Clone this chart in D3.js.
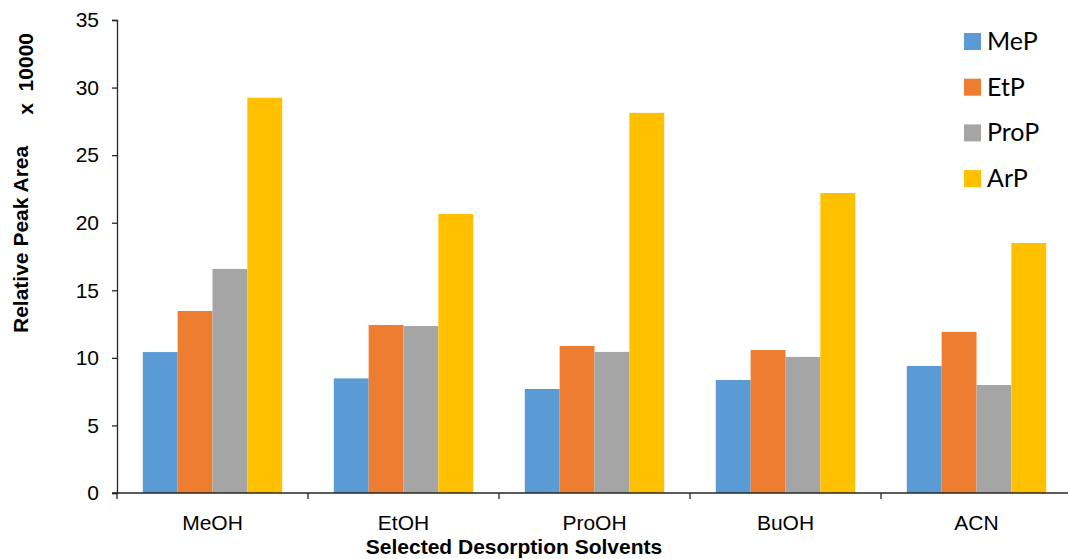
<!DOCTYPE html>
<html>
<head>
<meta charset="utf-8">
<script src="https://cdn.jsdelivr.net/npm/d3@7"></script>
<style>
  html, body { margin: 0; padding: 0; background: #fff; }
  svg { display: block; }
</style>
</head>
<body>
<svg id="chart" width="1068" height="559"></svg>
<script>
const categories = ["MeOH", "EtOH", "ProOH", "BuOH", "ACN"];
const seriesNames = ["MeP", "EtP", "ProP", "ArP"];
const MeP  = [10.43, 8.48, 7.70, 8.36, 9.40];
const EtP  = [13.47, 12.43, 10.88, 10.58, 11.92];
const ProP = [16.58, 12.36, 10.44, 10.07, 7.99];
const ArP  = [29.25, 20.65, 28.13, 22.20, 18.50];
const yTicks = [0, 5, 10, 15, 20, 25, 30, 35];
const colors = ["#5B9BD5", "#ED7D31", "#A5A5A5", "#FFC000"];

(function () {
const seriesValues = [MeP, EtP, ProP, ArP];
const svg = d3.select("#chart");

const mLeft = 117, mRight = 1072, mTop = 20, mBottom = 493;

const x = d3.scaleBand().domain(categories).range([mLeft, mRight]).paddingInner(0).paddingOuter(0);
const xs = d3.scaleBand().domain(seriesNames).range([0, x.bandwidth()]).paddingInner(0).paddingOuter(0.74);
const y = d3.scaleLinear().domain([0, 35]).range([mBottom, mTop]);

// bars
const groups = svg.append("g").selectAll("g")
  .data(categories).join("g")
  .attr("transform", d => `translate(${x(d)},0)`);

groups.selectAll("rect")
  .data((c, ci) => seriesNames.map((s, si) => ({ s, si, v: seriesValues[si][ci] })))
  .join("rect")
  .attr("x", d => xs(d.s))
  .attr("width", xs.bandwidth())
  .attr("y", d => y(d.v))
  .attr("height", d => y(0) - y(d.v))
  .attr("fill", d => colors[d.si]);

const axisColor = "#262626";
const font = "Liberation Sans, Arial, sans-serif";

// y axis
const yAxis = svg.append("g")
  .attr("transform", `translate(${mLeft},0)`)
  .call(d3.axisLeft(y).tickValues(yTicks).tickSize(5).tickPadding(13).tickFormat(d3.format("d")));
yAxis.select(".domain").attr("stroke", axisColor).attr("stroke-width", 1.3);
yAxis.selectAll(".tick line").attr("stroke", axisColor).attr("stroke-width", 1.3);
yAxis.selectAll(".tick text")
  .attr("font-family", font)
  .attr("font-size", 21).attr("fill", "#000");

// x axis
const xAxis = svg.append("g")
  .attr("transform", `translate(0,${mBottom})`)
  .call(d3.axisBottom(x).tickSize(0).tickPadding(22));
xAxis.select(".domain").remove();
xAxis.selectAll(".tick text")
  .attr("font-family", font)
  .attr("font-size", 21).attr("fill", "#000");
xAxis.append("line")
  .attr("x1", mLeft - 5).attr("x2", mRight).attr("y1", 0).attr("y2", 0)
  .attr("stroke", axisColor).attr("stroke-width", 1.3);
const boundaries = categories.map(c => x(c)).concat([x(categories[categories.length - 1]) + x.bandwidth()]);
xAxis.selectAll(".bnd").data(boundaries).join("line")
  .attr("class", "bnd")
  .attr("x1", d => d).attr("x2", d => d).attr("y1", 0).attr("y2", 6)
  .attr("stroke", axisColor).attr("stroke-width", 1.3);

// axis titles
svg.append("text")
  .attr("x", 514).attr("y", 554)
  .attr("text-anchor", "middle")
  .attr("font-family", font)
  .attr("font-weight", "bold").attr("font-size", 21).attr("fill", "#000")
  .text("Selected Desorption Solvents");

svg.append("text")
  .attr("transform", "translate(28,333) rotate(-90)")
  .attr("text-anchor", "start")
  .attr("font-family", font)
  .attr("font-weight", "bold").attr("font-size", 21).attr("fill", "#000")
  .text("Relative Peak Area");
svg.append("text")
  .attr("transform", "translate(33,33) rotate(-90)")
  .attr("text-anchor", "end")
  .attr("font-family", font)
  .attr("font-weight", "bold").attr("font-size", 21).attr("fill", "#000")
  .style("white-space", "pre")
  .text("x  10000");

// legend
const legend = svg.append("g").attr("transform", "translate(964,33)");
const li = legend.selectAll("g").data(seriesNames).join("g")
  .attr("transform", (d, i) => `translate(0,${i * 45.7})`);
li.append("rect").attr("width", 17).attr("height", 17).attr("fill", (d, i) => colors[i]);
li.append("text")
  .attr("x", 23).attr("y", 17)
  .attr("font-family", "Lato, Open Sans, sans-serif")
  .attr("font-size", 25).attr("fill", "#000")
  .text(d => d);
})();
</script>
</body>
</html>
